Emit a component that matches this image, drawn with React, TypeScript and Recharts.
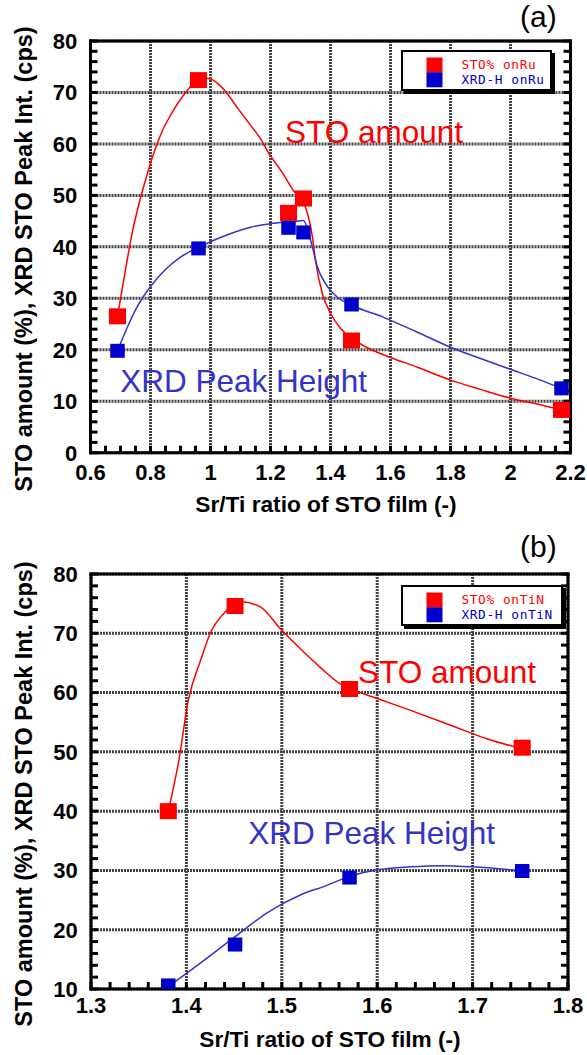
import React from 'react';
import { ComposedChart, XAxis, YAxis, CartesianGrid, Line, Scatter, Legend } from 'recharts';

// ---------- Panel (a): STO films on Ru ----------
const ratioA = [0.69, 0.96, 1.26, 1.31, 1.47, 2.17];
const stoPctA = [26.5, 72.4, 46.6, 49.4, 21.8, 8.3];
const xrdHeightA = [19.8, 39.7, 43.7, 42.8, 28.8, 12.5];

// smooth guide curves drawn through the measurements, [ratio, value]
const stoCurveA: [number, number][] = [
  [0.69, 26.5], [0.715, 35], [0.74, 43], [0.78, 52.3], [0.817, 59.2], [0.84, 62.6],
  [0.867, 65.6], [0.92, 70.2], [0.967, 72.8], [1.0, 72.6], [1.05, 70.2], [1.09, 67],
  [1.13, 63.9], [1.167, 61], [1.19, 58.6], [1.235, 54.8], [1.277, 50.9], [1.317, 47.6],
  [1.34, 41.8], [1.35, 37.3], [1.373, 30.9], [1.4, 27.1], [1.433, 24.2], [1.467, 22.4],
  [1.523, 20.4], [1.6, 18.5], [1.69, 16.6], [1.8, 14.1], [1.9, 12.3], [2.0, 10.6],
  [2.1, 9.3], [2.17, 8.3],
];
const xrdCurveA: [number, number][] = [
  [0.69, 19.8], [0.72, 24], [0.76, 28.8], [0.8, 32.3], [0.85, 35.6], [0.9, 38],
  [0.96, 39.9], [1.0, 41], [1.05, 42.2], [1.133, 43.8], [1.2, 44.5], [1.277, 44.9],
  [1.31, 45.1], [1.327, 42.7], [1.34, 39.9], [1.357, 36], [1.383, 32.9], [1.423, 30.2],
  [1.473, 28.6], [1.577, 26.3], [1.69, 23.4], [1.8, 20.5], [1.9, 18.3], [2.0, 16.2],
  [2.1, 14.1], [2.17, 12.5],
];

const ratioTicksA = [0.6, 0.8, 1, 1.2, 1.4, 1.6, 1.8, 2, 2.2];
const valueTicksA = [0, 10, 20, 30, 40, 50, 60, 70, 80];

// ---------- Panel (b): STO films on TiN ----------
const ratioB = [1.381, 1.451, 1.571, 1.752];
const stoPctB = [40, 74.6, 60.6, 50.7];
const xrdHeightB = [10.6, 17.5, 28.8, 29.9];

const stoCurveB: [number, number][] = [
  [1.381, 40], [1.392, 48.5], [1.402, 58.7], [1.415, 65.5], [1.425, 70], [1.439, 73.3],
  [1.457, 75.3], [1.477, 74.5], [1.5, 70.5], [1.52, 67.3], [1.54, 64.3], [1.561, 61.5],
  [1.571, 60.7], [1.6, 59], [1.635, 57], [1.677, 54.5], [1.715, 52.2], [1.752, 50.5],
];
const xrdCurveB: [number, number][] = [
  [1.381, 10.4], [1.415, 14.4], [1.45, 18.7], [1.485, 22.9], [1.52, 25.9], [1.546, 27.4],
  [1.571, 29], [1.6, 30.1], [1.635, 30.6], [1.666, 30.8], [1.7, 30.6], [1.752, 29.9],
];

const ratioTicksB = [1.3, 1.4, 1.5, 1.6, 1.7, 1.8];
const valueTicksB = [10, 20, 30, 40, 50, 60, 70, 80];

// ---------- shared styling ----------
const SANS = '"Liberation Sans", Arial, Helvetica, sans-serif';
const MONO = '"DejaVu Sans Mono", "Liberation Mono", monospace';
const RED = '#ff0000';
const BLUE = '#0000cc';
const BLUE_LINE = '#3333cc';
const TICK_LEN = 7;
// every axis gets a 1px band so that it is drawn; the plot margins compensate
const AXIS_BAND = 1;

const stepTicks = (lo: number, hi: number, step: number) =>
  Array.from({ length: Math.round((hi - lo) / step) + 1 }, (_, i) => +(lo + i * step).toFixed(4));

const isMajor = (v: number, majors: number[]) => majors.some((m) => Math.abs(m - v) < 1e-6);

const pairsToRows = (pairs: [number, number][]) => pairs.map(([x, y]) => ({ x, y }));
const zipRows = (xs: number[], ys: number[]) => xs.map((x, i) => ({ x, y: ys[i] }));

const bottomTick = (majors: number[]) => (props: any) => {
  const { x, y, payload } = props;
  if (!isMajor(payload.value, majors)) return <g />;
  return (
    <text x={x} y={y} textAnchor="middle" fontFamily={SANS} fontWeight="bold" fontSize={22} fill="#000">
      {String(+Number(payload.value).toFixed(2))}
    </text>
  );
};

const leftTick = (majors: number[]) => (props: any) => {
  const { x, y, payload } = props;
  if (!isMajor(payload.value, majors)) return <g />;
  return (
    <text x={x} y={y} dy="0.36em" textAnchor="end" fontFamily={SANS} fontWeight="bold" fontSize={22} fill="#000">
      {String(payload.value)}
    </text>
  );
};

const squareShape = (w: number, h: number, color: string) => (props: any) => (
  <rect x={props.cx - w / 2} y={props.cy - h / 2} width={w} height={h} fill={color} />
);

const legendBox = (width: number) => (props: any) => {
  const items = (props.payload || []).filter((p: any) => p.type !== 'none');
  return (
    <div
      style={{
        width,
        height: 41,
        boxSizing: 'border-box',
        border: '2.5px solid #000',
        boxShadow: '3px 3px 0 #000',
        background: '#fff',
      }}
    >
      <svg width={width - 5} height={36} style={{ display: 'block' }}>
        {items.map((it: any, i: number) => (
          <g key={i}>
            <rect x={23.5} y={5.5 + i * 14.8} width={16} height={15} fill={it.color} />
            <text
              x={58.5}
              y={16.6 + i * 15.2}
              fontFamily={MONO}
              fontSize={12.8}
              letterSpacing={0.6}
              fill={it.color}
            >
              {it.value}
            </text>
          </g>
        ))}
      </svg>
    </div>
  );
};

const axisLineStyle = { stroke: '#000', strokeWidth: 3, strokeLinecap: 'square' as const };
const tickLineStyle = { stroke: '#000', strokeWidth: 3 };

type PanelProps = {
  height: number;
  plot: { top: number; right: number; bottom: number; left: number };
  xDomain: [number, number];
  yDomain: [number, number];
  xMajor: number[];
  yMajor: number[];
  xMinorStep: number;
  yMinorStep: number;
  xLabelGap: number;
  ratios: number[];
  sto: number[];
  xrd: number[];
  stoCurve: [number, number][];
  xrdCurve: [number, number][];
  stoName: string;
  xrdName: string;
  legendPos: { left: number; top: number; width: number };
  letter: string;
  letterY: number;
  yTitleY: number;
  xTitle: { x: number; y: number };
  stoNote: { x: number; y: number };
  xrdNote: { x: number; y: number };
};

function Panel(p: PanelProps) {
  const xAll = stepTicks(p.xDomain[0], p.xDomain[1], p.xMinorStep);
  const yAll = stepTicks(p.yDomain[0], p.yDomain[1], p.yMinorStep);
  const margin = {
    top: p.plot.top - AXIS_BAND,
    right: p.plot.right - AXIS_BAND,
    bottom: p.plot.bottom - AXIS_BAND,
    left: p.plot.left - AXIS_BAND,
  };
  return (
    <div style={{ position: 'relative', width: 587, height: p.height }}>
      <ComposedChart width={587} height={p.height} margin={margin}>
        <CartesianGrid
          verticalValues={p.xMajor}
          horizontalValues={p.yMajor}
          stroke="#444"
          strokeWidth={3}
          strokeDasharray="2 1"
        />
        <XAxis
          type="number"
          dataKey="x"
          domain={p.xDomain}
          allowDataOverflow
          ticks={xAll}
          interval={0}
          height={AXIS_BAND}
          tickSize={-TICK_LEN}
          tickMargin={p.xLabelGap + TICK_LEN}
          axisLine={axisLineStyle}
          tickLine={tickLineStyle}
          tick={bottomTick(p.xMajor)}
        />
        <XAxis
          xAxisId="top"
          orientation="top"
          type="number"
          domain={p.xDomain}
          allowDataOverflow
          ticks={xAll}
          interval={0}
          height={AXIS_BAND}
          tickSize={-TICK_LEN}
          axisLine={axisLineStyle}
          tickLine={tickLineStyle}
          tick={() => <g />}
        />
        <YAxis
          type="number"
          dataKey="y"
          domain={p.yDomain}
          allowDataOverflow
          ticks={yAll}
          interval={0}
          width={AXIS_BAND}
          tickSize={-TICK_LEN}
          tickMargin={13.2 + TICK_LEN}
          axisLine={axisLineStyle}
          tickLine={tickLineStyle}
          tick={leftTick(p.yMajor)}
        />
        <YAxis
          yAxisId="right"
          orientation="right"
          type="number"
          domain={p.yDomain}
          allowDataOverflow
          ticks={yAll}
          interval={0}
          width={AXIS_BAND}
          tickSize={-TICK_LEN}
          axisLine={axisLineStyle}
          tickLine={tickLineStyle}
          tick={() => <g />}
        />
        <Line
          data={pairsToRows(p.stoCurve)}
          dataKey="y"
          type="monotone"
          stroke={RED}
          strokeWidth={1.5}
          dot={false}
          activeDot={false}
          legendType="none"
          isAnimationActive={false}
        />
        <Line
          data={pairsToRows(p.xrdCurve)}
          dataKey="y"
          type="monotone"
          stroke={BLUE_LINE}
          strokeWidth={1.5}
          dot={false}
          activeDot={false}
          legendType="none"
          isAnimationActive={false}
        />
        <Scatter
          name={p.stoName}
          data={zipRows(p.ratios, p.sto)}
          dataKey="y"
          fill={RED}
          shape={squareShape(17, 16, RED)}
          isAnimationActive={false}
        />
        <Scatter
          name={p.xrdName}
          data={zipRows(p.ratios, p.xrd)}
          dataKey="y"
          fill={BLUE}
          shape={squareShape(14.5, 14, BLUE)}
          isAnimationActive={false}
        />
        <Legend
          layout="vertical"
          align="center"
          verticalAlign="middle"
          content={legendBox(p.legendPos.width)}
          wrapperStyle={{ left: p.legendPos.left, top: p.legendPos.top, width: p.legendPos.width, height: 44 }}
        />
      </ComposedChart>
      <svg
        width={587}
        height={p.height}
        style={{ position: 'absolute', left: 0, top: 0, pointerEvents: 'none' }}
      >
        <text x={520} y={p.letterY} fontFamily={SANS} fontSize={30} fill="#000">
          {p.letter}
        </text>
        <text
          transform={`translate(31.5, ${p.yTitleY}) rotate(-90)`}
          textAnchor="middle"
          fontFamily={SANS}
          fontWeight="bold"
          fontSize={23.5}
          fill="#000"
        >
          STO amount (%), XRD STO Peak Int. (cps)
        </text>
        <text x={p.xTitle.x} y={p.xTitle.y} textAnchor="middle" fontFamily={SANS} fontWeight="bold" fontSize={22.7} fill="#000">
          Sr/Ti ratio of STO film (-)
        </text>
        <text x={p.stoNote.x} y={p.stoNote.y} fontFamily={SANS} fontSize={31.5} fill={RED}>
          STO amount
        </text>
        <text x={p.xrdNote.x} y={p.xrdNote.y} textAnchor="end" fontFamily={SANS} fontSize={31.5} fill={BLUE_LINE}>
          XRD Peak Height
        </text>
      </svg>
    </div>
  );
}

export default function App() {
  return (
    <div style={{ position: 'absolute', left: 0, top: 0, width: 587, height: 1055, background: '#fff' }}>
      <Panel
        height={527}
        plot={{ top: 41, right: 16.5, bottom: 74.3, left: 90.5 }}
        xDomain={[0.6, 2.2]}
        yDomain={[0, 80]}
        xMajor={ratioTicksA}
        yMajor={valueTicksA}
        xMinorStep={0.05}
        yMinorStep={2}
        xLabelGap={27.3}
        ratios={ratioA}
        sto={stoPctA}
        xrd={xrdHeightA}
        stoCurve={stoCurveA}
        xrdCurve={xrdCurveA}
        stoName="STO% onRu"
        xrdName="XRD-H onRu"
        legendPos={{ left: 401, top: 50, width: 151 }}
        letter="(a)"
        letterY={27.3}
        yTitleY={259}
        xTitle={{ x: 326, y: 511.7 }}
        stoNote={{ x: 285, y: 143 }}
        xrdNote={{ x: 367, y: 391.7 }}
      />
      <Panel
        height={528}
        plot={{ top: 47, right: 19, bottom: 66, left: 91 }}
        xDomain={[1.3, 1.8]}
        yDomain={[10, 80]}
        xMajor={ratioTicksB}
        yMajor={valueTicksB}
        xMinorStep={0.02}
        yMinorStep={2}
        xLabelGap={24.3}
        ratios={ratioB}
        sto={stoPctB}
        xrd={xrdHeightB}
        stoCurve={stoCurveB}
        xrdCurve={xrdCurveB}
        stoName="STO% onTiN"
        xrdName="XRD-H onTiN"
        legendPos={{ left: 401, top: 58, width: 162 }}
        letter="(b)"
        letterY={30.3}
        yTitleY={267}
        xTitle={{ x: 330, y: 519.7 }}
        stoNote={{ x: 358, y: 156 }}
        xrdNote={{ x: 495, y: 317 }}
      />
    </div>
  );
}
